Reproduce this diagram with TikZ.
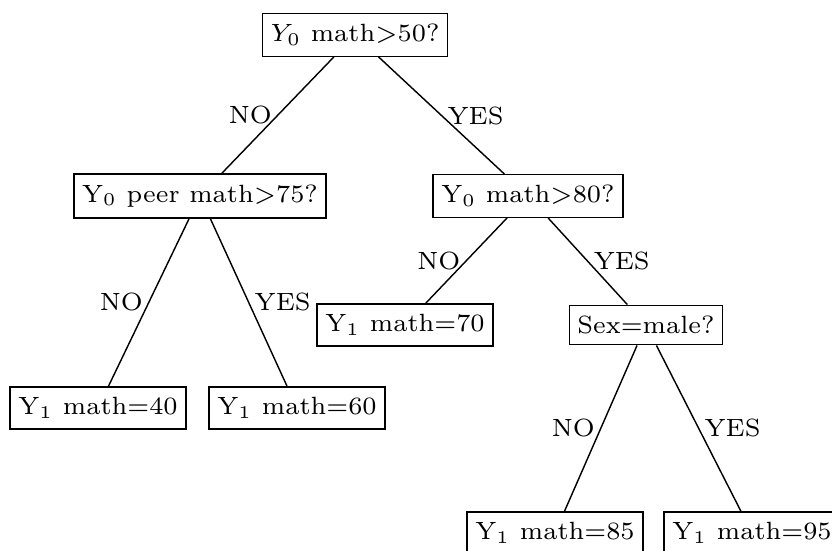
\documentclass[tikz,border=0pt]{standalone}
\usepackage{tikz}

\begin{document}
\begin{tikzpicture}[
  x=0.00986cm, y=-0.00986cm,
  font=\scriptsize,
  box/.style={draw, rectangle, inner xsep=2.3pt, inner ysep=3pt, align=center},
  lbl/.style={inner sep=1.5pt},
]
  \useasboundingbox (0,0) rectangle (832,551);

  % --- Split nodes ---
  \node[box] at (355,35)  (root) {$Y_0$ math$>$50?};
  \node[box] at (200,196) (peer) {Y$_0$ peer math$>$75?};
  \node[box] at (528,196) (hi)   {Y$_0$ math$>$80?};
  \node[box] at (646,325) (sex)  {Sex=male?};

  % --- Leaves ---
  \node[box] at (98,408)  (l40) {Y$_1$ math=40};
  \node[box] at (297,408) (l60) {Y$_1$ math=60};
  \node[box] at (405,325) (l70) {Y$_1$ math=70};
  \node[box] at (555,533) (l85) {Y$_1$ math=85};
  \node[box] at (752,533) (l95) {Y$_1$ math=95};

  % --- Branches ---
  \draw (root) -- (peer) node[lbl, midway, left]  {NO};
  \draw (root) -- (hi)   node[lbl, midway, right] {YES};
  \draw (peer) -- (l40)  node[lbl, midway, left]  {NO};
  \draw (peer) -- (l60)  node[lbl, midway, right] {YES};
  \draw (hi)   -- (l70)  node[lbl, midway, left]  {NO};
  \draw (hi)   -- (sex)  node[lbl, midway, right] {YES};
  \draw (sex)  -- (l85)  node[lbl, midway, left]  {NO};
  \draw (sex)  -- (l95)  node[lbl, midway, right] {YES};

\end{tikzpicture}
\end{document}
